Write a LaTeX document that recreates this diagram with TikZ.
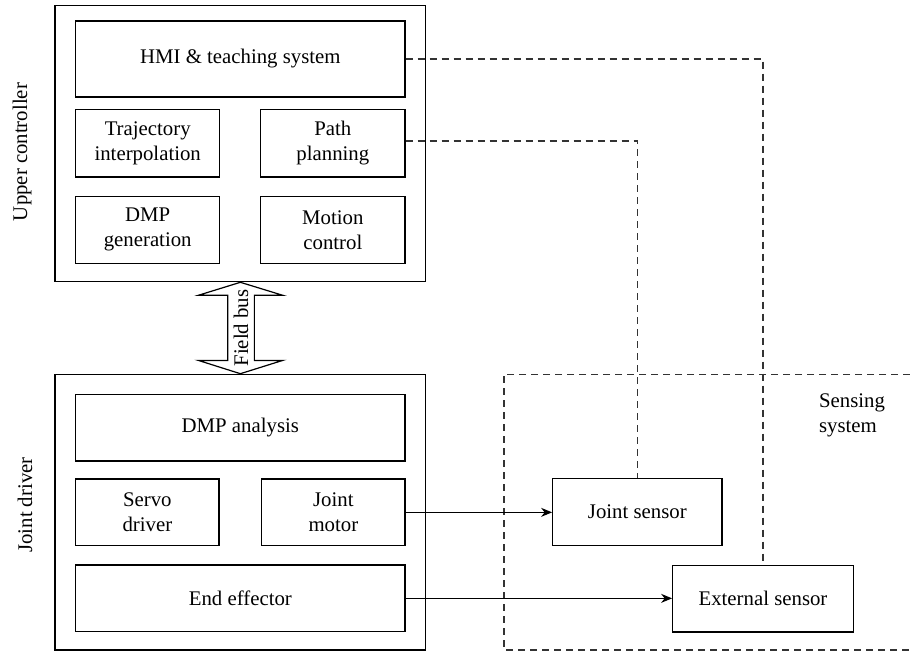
\documentclass[tikz,border=0pt]{standalone}
\usepackage{fontspec}
\setmainfont{Liberation Serif}
\usetikzlibrary{arrows.meta,calc}
\begin{document}
\begin{tikzpicture}[x=0.5pt,y=-0.5pt,
  font=\fontsize{10.4}{12.5}\selectfont,
  box/.style={draw,line width=0.6pt,inner sep=0pt,align=center},
  dline/.style={draw=black!80,line width=0.7pt,dash pattern=on 3.5pt off 2.5pt},
  arr/.style={draw,line width=0.6pt,-{Stealth[length=5.5pt,width=4.5pt]}}]
\useasboundingbox (0,0) rectangle (910,652);
% Upper controller
\node[box,minimum width=185.35pt,minimum height=138.2pt] (uc) at (240.35,143.5) {};
\node[box,minimum width=164.65pt,minimum height=38pt] (hmi) at (240.35,59) {HMI \& teaching system};
\node[box,minimum width=72pt,minimum height=33.85pt] (traj) at (147.7,143.15) {Trajectory\\interpolation};
\node[box,minimum width=72.15pt,minimum height=33.85pt] (path) at (332.85,143.15) {Path\\planning};
\node[box,minimum width=72pt,minimum height=33.5pt] (dmpgen) at (147.7,229.8) {DMP\\generation};
\node[box,minimum width=72.15pt,minimum height=33.5pt] (motion) at (332.85,229.8) {Motion\\control};
\node[rotate=90] (uclabel) at (22,152) {Upper controller};
% Joint driver
\node[box,minimum width=185.35pt,minimum height=137.85pt] (jd) at (240.35,512.15) {};
\node[box,minimum width=164.65pt,minimum height=33.35pt] (dmpan) at (240.35,427.65) {DMP analysis};
\node[box,minimum width=71.65pt,minimum height=33.35pt] (servo) at (147.35,512.35) {Servo\\driver};
\node[box,minimum width=71.65pt,minimum height=33.35pt] (jmotor) at (333.35,512.35) {Joint\\motor};
\node[box,minimum width=164.65pt,minimum height=33.35pt] (endeff) at (240.35,598.35) {End effector};
\node[rotate=90] (jdlabel) at (25,505) {Joint driver};
% Field bus double arrow
\draw[line width=0.6pt,fill=white] (uc.south) -- ($(uc.south)+(42.4,13)$) -- ($(uc.south)+(14,13)$)
  -- ($(jd.north)+(14,-13.3)$) -- ($(jd.north)+(42.4,-13.3)$) -- (jd.north)
  -- ($(jd.north)+(-42,-13.3)$) -- ($(jd.north)+(-12.6,-13.3)$)
  -- ($(uc.south)+(-12.6,13)$) -- ($(uc.south)+(-42,13)$) -- cycle;
\node[rotate=90] (fb) at (241,328) {Field bus};
% Sensing system
\coordinate (stl) at (504,374.3);
\coordinate (str) at (910,374.3);
\coordinate (sbl) at (504,650);
\coordinate (sbr) at (910,650);
\draw[dline] (str) -- (stl) -- (sbl) -- (sbr);
\node[anchor=west,align=left] (sslabel) at (812,415.5) {Sensing\\system};
\node[box,minimum width=84.65pt,minimum height=33.3pt] (js) at (637.35,512) {Joint sensor};
\node[box,minimum width=90.3pt,minimum height=33.15pt] (es) at (763,598.85) {External sensor};
% connectors
\draw[dline] (hmi.east) -- (hmi.east -| es.north) -- (es.north);
\draw[dline] ($(path.east)+(0,-2)$) -- ($(path.east -| js.north)+(0,-2)$) -- (js.north);
\draw[arr] (jmotor.east) -- (jmotor.east -| js.west);
\draw[arr] (endeff.east) -- (endeff.east -| es.west);
\end{tikzpicture}
\end{document}
